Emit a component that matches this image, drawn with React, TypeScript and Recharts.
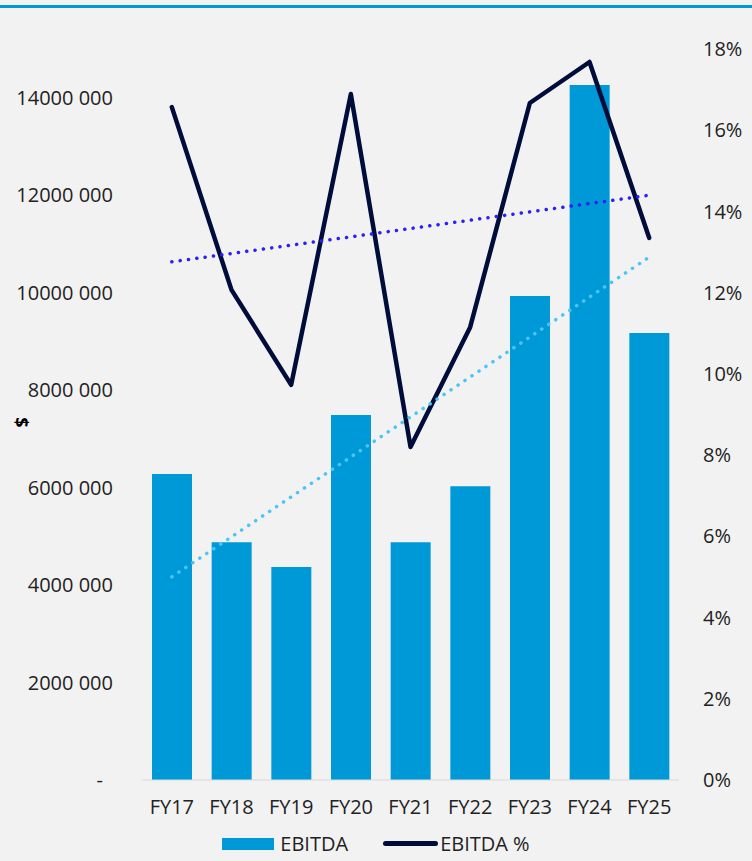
import {
  ComposedChart,
  Bar,
  Line,
  XAxis,
  YAxis,
  Legend,
} from 'recharts';

const categories = ['FY17', 'FY18', 'FY19', 'FY20', 'FY21', 'FY22', 'FY23', 'FY24', 'FY25'];
const ebitda = [6280000, 4880000, 4370000, 7490000, 4880000, 6030000, 9930000, 14260000, 9170000];
const ebitdaPct = [16.57, 12.07, 9.73, 16.89, 8.2, 11.15, 16.67, 17.68, 13.35];
// trend lines: only the end points are read, the line joins them
const ebitdaTrend = [4170000, null, null, null, null, null, null, null, 10730000];
const pctTrend = [12.76, null, null, null, null, null, null, null, 14.4];

const leftTicks = [0, 2000000, 4000000, 6000000, 8000000, 10000000, 12000000, 14000000];
const rightTicks = [0, 2, 4, 6, 8, 10, 12, 14, 16, 18];

const FONT = '"Open Sans", "Noto Sans", sans-serif';
const BAR = '#0099d8';
const NAVY = '#000d3a';

const data = categories.map((c, i) => ({
  name: c,
  ebitda: ebitda[i],
  pct: ebitdaPct[i],
  ebitdaTrend: ebitdaTrend[i],
  pctTrend: pctTrend[i],
}));

function LeftTick({ x = 0, y = 0, payload }: any) {
  const zero = payload.value === 0;
  return (
    <text
      x={zero ? x - 10 : x}
      y={y}
      dy="0.355em"
      textAnchor="end"
      fontSize={20}
      fontFamily={FONT}
      fill="#222"
    >
      {zero ? '-' : `${payload.value / 1000} 000`}
    </text>
  );
}

function LegendBox() {
  return (
    <div
      style={{
        height: 35,
        display: 'flex',
        justifyContent: 'center',
        alignItems: 'center',
        fontFamily: FONT,
        fontSize: 20,
        color: '#222',
      }}
    >
      <span style={{ width: 52, height: 12, background: BAR, marginRight: 6 }} />
      <span style={{ marginRight: 35 }}>EBITDA</span>
      <span style={{ width: 55, height: 5, borderRadius: 3, background: NAVY, marginRight: 2 }} />
      <span>EBITDA %</span>
    </div>
  );
}

export default function App() {
  return (
    <div style={{ position: 'fixed', top: 0, left: 0, width: 752, height: 861, background: '#f2f2f2' }}>
      <div style={{ position: 'absolute', top: 5, left: 0, width: 752, height: 2.5, background: BAR }} />
      <ComposedChart
        width={752}
        height={861}
        data={data}
        margin={{ top: 49, right: 0, bottom: 0, left: 0 }}
      >
        <XAxis
          dataKey="name"
          height={46}
          tickLine={false}
          tickMargin={14}
          stroke="#d9d9d9"
          tick={{ fontSize: 20, fontFamily: FONT, fill: '#222' }}
        />
        <YAxis
          yAxisId="left"
          width={142}
          domain={[0, 15000000]}
          ticks={leftTicks}
          axisLine={false}
          tickLine={false}
          tickMargin={23}
          tick={<LeftTick />}
          label={{
            content: ({ viewBox }: any) => (
              <text
                x={viewBox.x + 21}
                y={viewBox.y + viewBox.height / 2 + 8}
                transform={`rotate(90 ${viewBox.x + 21} ${viewBox.y + viewBox.height / 2 + 8})`}
                textAnchor="middle"
                dy="0.355em"
                fontSize={18}
                fontWeight="bold"
                fontFamily={FONT}
                fill="#000"
              >
                $
              </text>
            ),
          }}
        />
        <YAxis
          yAxisId="right"
          orientation="right"
          width={73}
          domain={[0, 18]}
          ticks={rightTicks}
          axisLine={false}
          tickLine={false}
          tickMargin={18}
          tickFormatter={(v: number) => `${v}%`}
          tick={{ fontSize: 20, fontFamily: FONT, fill: '#222' }}
        />
        <Legend verticalAlign="bottom" content={<LegendBox />} />
        <Bar yAxisId="left" dataKey="ebitda" fill={BAR} barSize={40} isAnimationActive={false} />
        <Line
          yAxisId="right"
          dataKey="pct"
          stroke={NAVY}
          strokeWidth={4.5}
          strokeLinecap="round"
          strokeLinejoin="round"
          dot={false}
          activeDot={false}
          isAnimationActive={false}
        />
        <Line
          yAxisId="left"
          dataKey="ebitdaTrend"
          stroke="#4cc5f5"
          strokeWidth={3.5}
          strokeDasharray="0.1 8.3"
          strokeLinecap="round"
          connectNulls
          dot={false}
          activeDot={false}
          isAnimationActive={false}
        />
        <Line
          yAxisId="right"
          dataKey="pctTrend"
          stroke="#2a1ff5"
          strokeWidth={3.5}
          strokeDasharray="0.1 8.3"
          strokeLinecap="round"
          connectNulls
          dot={false}
          activeDot={false}
          isAnimationActive={false}
        />
      </ComposedChart>
    </div>
  );
}
